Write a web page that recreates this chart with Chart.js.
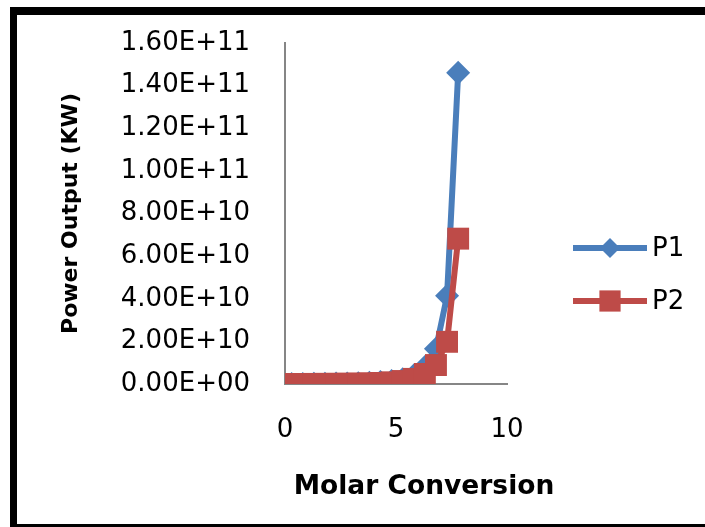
<!DOCTYPE html>
<html>
<head>
<meta charset="utf-8">
<script src="https://cdn.jsdelivr.net/npm/chart.js@4/dist/chart.umd.min.js"></script>
<style>
  html, body { margin: 0; padding: 0; background: #fff; overflow: hidden; }
  #wrap { position: relative; width: 705px; height: 527px; }
  #chart { display: block; }
  #frame {
    position: absolute; left: 10px; top: 7px; width: 720px; height: 509px;
    border-top: 8px solid #000; border-left: 7px solid #000; border-bottom: 3px solid #000;
    pointer-events: none;
  }
</style>
</head>
<body>
<div id="wrap">
  <canvas id="chart" width="705" height="527"></canvas>
  <div id="frame"></div>
</div>
<script>
const molarConversion = [0.3, 0.8, 1.3, 1.8, 2.3, 2.8, 3.3, 3.8, 4.3, 4.8, 5.3, 5.8, 6.3, 6.8, 7.3, 7.8];
const p1Values = [3e7, 5e7, 8e7, 1.2e8, 1.8e8, 2.7e8, 4e8, 6e8, 9e8, 1.4e9, 2.2e9, 4e9, 8e9, 1.65e10, 4.14e10, 1.46e11];
const p2Values = [2e7, 3e7, 5e7, 7e7, 1e8, 1.5e8, 2e8, 3e8, 5e8, 8e8, 1.4e9, 2.4e9, 4.7e9, 8.9e9, 1.98e10, 6.82e10];
const yTicks = [0, 2e10, 4e10, 6e10, 8e10, 1e11, 1.2e11, 1.4e11, 1.6e11];
const xTitle = 'Molar Conversion';
const yTitle = 'Power Output (KW)';

const BLUE = '#4A7EBB';
const RED = '#BE4B48';
const FONT = 'DejaVu Sans';

function toPoints(xs, ys) {
  return xs.map((x, i) => ({ x: x, y: ys[i] }));
}

// Excel style scientific label: 1.60E+11, 0.00E+00
function sciLabel(v) {
  if (v === 0) return '0.00E+00';
  const parts = v.toExponential(2).split('e');
  const sign = parts[1][0];
  let exp = parts[1].slice(1);
  if (exp.length < 2) exp = '0' + exp;
  return parts[0] + 'E' + sign + exp;
}

function markerPath(ctx, style, x, y, r) {
  ctx.beginPath();
  if (style === 'rectRot') {
    ctx.moveTo(x - r, y);
    ctx.lineTo(x, y - r);
    ctx.lineTo(x + r, y);
    ctx.lineTo(x, y + r);
  } else {
    const s = r * Math.SQRT1_2;
    ctx.rect(x - s, y - s, 2 * s, 2 * s);
  }
  ctx.closePath();
}

// legend drawn like the Excel one: line with marker in the middle
const sideLegend = {
  id: 'sideLegend',
  afterDraw(chart) {
    const ctx = chart.ctx;
    const area = chart.chartArea;
    const rows = [248, 301];
    ctx.save();
    chart.data.datasets.forEach((ds, i) => {
      const y = rows[i];
      const x0 = area.right + 66;
      const x1 = area.right + 140;
      ctx.strokeStyle = ds.borderColor;
      ctx.lineWidth = ds.borderWidth;
      ctx.beginPath();
      ctx.moveTo(x0, y);
      ctx.lineTo(x1, y);
      ctx.stroke();
      ctx.fillStyle = ds.backgroundColor;
      markerPath(ctx, ds.pointStyle, (x0 + x1) / 2, y, ds.pointStyle === 'rectRot' ? 10 : 15);
      ctx.fill();
      ctx.fillStyle = '#000';
      ctx.font = '26px "' + FONT + '"';
      ctx.textBaseline = 'middle';
      ctx.textAlign = 'left';
      ctx.fillText(ds.label, x1 + 5, y + 1);
    });
    ctx.restore();
  }
};

// x title sits a bit right of the plot centre, as in the original
const xAxisTitle = {
  id: 'xAxisTitle',
  afterDraw(chart) {
    const ctx = chart.ctx;
    const area = chart.chartArea;
    ctx.save();
    ctx.fillStyle = '#000';
    ctx.font = 'bold 26.5px "' + FONT + '"';
    ctx.textAlign = 'center';
    ctx.textBaseline = 'middle';
    ctx.fillText(xTitle, area.left + 139, area.bottom + 103);
    ctx.restore();
  }
};

const ctx = document.getElementById('chart');
new Chart(ctx, {
  type: 'line',
  data: {
    datasets: [
      {
        label: 'P1',
        data: toPoints(molarConversion, p1Values),
        borderColor: BLUE,
        backgroundColor: BLUE,
        borderWidth: 6,
        pointStyle: 'rectRot',
        pointRadius: 12,
        pointBorderWidth: 0,
        tension: 0,
        order: 1
      },
      {
        label: 'P2',
        data: toPoints(molarConversion, p2Values),
        borderColor: RED,
        backgroundColor: RED,
        borderWidth: 6,
        pointStyle: 'rect',
        pointRadius: 15.5,
        pointBorderWidth: 0,
        tension: 0,
        order: 0
      }
    ]
  },
  options: {
    responsive: false,
    animation: false,
    layout: { padding: { left: 0, top: 43, right: 198, bottom: 0 } },
    plugins: {
      legend: { display: false },
      tooltip: { enabled: false }
    },
    scales: {
      x: {
        type: 'linear',
        min: 0,
        max: 10,
        afterFit(scale) { scale.height = 143; },
        ticks: {
          stepSize: 5,
          padding: 0,
          color: '#000',
          font: { family: FONT, size: 26 }
        },
        grid: { display: false, drawTicks: true, tickLength: 31 },
        border: { display: true, color: '#868686', width: 2 }
      },
      y: {
        min: 0,
        max: 1.6e11,
        afterFit(scale) { scale.width = 285; },
        afterBuildTicks(scale) { scale.ticks = yTicks.map(v => ({ value: v })); },
        ticks: {
          padding: 0,
          color: '#000',
          font: { family: FONT, size: 26 },
          callback: v => sciLabel(v)
        },
        grid: { display: false, drawTicks: true, tickLength: 35 },
        border: { display: true, color: '#868686', width: 2 },
        title: {
          display: true,
          text: yTitle,
          color: '#000',
          font: { family: FONT, size: 22, weight: 'bold' },
          padding: { top: 58, bottom: 0 }
        }
      }
    }
  },
  plugins: [sideLegend, xAxisTitle]
});
</script>
</body>
</html>
